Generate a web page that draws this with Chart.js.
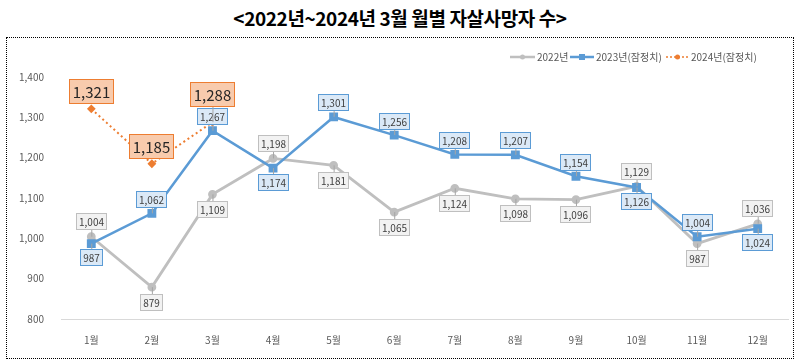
<!DOCTYPE html>
<html>
<head>
<meta charset="utf-8">
<script src="https://cdn.jsdelivr.net/npm/chart.js@4"></script>
<style>
  body { margin: 0; background: #fff; }
  #wrap { position: relative; width: 800px; height: 364px; }
  #title {
    position: absolute; left: 0; top: 4px; width: 800px; text-align: center;
    font: bold 19px "Noto Sans CJK KR"; color: #000; letter-spacing: -0.4px;
  }
  #frame {
    position: absolute; left: 6px; top: 37px; width: 786px; height: 320px;
    border: 1px dotted #000; pointer-events: none;
  }
  canvas { position: absolute; left: 0; top: 0; }
</style>
</head>
<body>
<div id="wrap">
  <div id="title">&lt;2022년~2024년 3월 월별 자살사망자 수&gt;</div>
  <canvas id="myChart" width="800" height="364"></canvas>
  <div id="frame"></div>
</div>
<script>
const months = ['1월', '2월', '3월', '4월', '5월', '6월', '7월', '8월', '9월', '10월', '11월', '12월'];
const seriesNames = ['2022년', '2023년(잠정치)', '2024년(잠정치)'];
const values2022 = [1004, 879, 1109, 1198, 1181, 1065, 1124, 1098, 1096, 1129, 987, 1036];
const values2023 = [987, 1062, 1267, 1174, 1301, 1256, 1208, 1207, 1154, 1126, 1004, 1024];
const values2024 = [1321, 1185, 1288, null, null, null, null, null, null, null, null, null];
const yTicks = [800, 900, 1000, 1100, 1200, 1300, 1400];

const KR = '"Noto Sans CJK KR"';

// boxed value labels, placed above/below depending on the other series
const boxLabels = {
  id: 'boxLabels',
  afterDatasetsDraw(chart) {
    const ctx = chart.ctx;
    const placed = [];
    const sets = chart.data.datasets;
    [0, 1, 2].forEach(di => {
      const ds = sets[di];
      const st = ds.labelStyle;
      const meta = chart.getDatasetMeta(di);
      meta.data.forEach((pt, i) => {
        const v = ds.data[i];
        if (v == null) return;
        const text = v.toLocaleString('en-US');
        ctx.font = st.font;
        const w = Math.round(ctx.measureText(text).width + st.padX * 2);
        const h = st.h;
        let above = true;
        if (di < 2) above = v > sets[1 - di].data[i];
        let cy = pt.y + (above ? -st.offset : st.offset);
        let box = { x: Math.round(pt.x - w / 2), y: Math.round(cy - h / 2), w: w, h: h };
        // push up out of the way of boxes already drawn
        for (let k = 0; k < 20; k++) {
          const hit = placed.find(b => box.x < b.x + b.w && box.x + box.w > b.x && box.y < b.y + b.h && box.y + box.h > b.y);
          if (!hit || di < 2) break;
          box.y = hit.y - box.h - 1;
        }
        // leader line
        const edge = above ? box.y + box.h : box.y;
        if (Math.abs(edge - pt.y) > 5) {
          ctx.save();
          ctx.strokeStyle = '#a6a6a6';
          ctx.lineWidth = 1;
          ctx.beginPath();
          ctx.moveTo(pt.x + 0.5, pt.y);
          ctx.lineTo(pt.x + 0.5, edge);
          ctx.stroke();
          ctx.restore();
        }
        ctx.save();
        ctx.fillStyle = st.fill;
        ctx.fillRect(box.x, box.y, box.w, box.h);
        ctx.strokeStyle = st.border;
        ctx.lineWidth = 1;
        ctx.strokeRect(box.x + 0.5, box.y + 0.5, box.w - 1, box.h - 1);
        ctx.fillStyle = st.color;
        ctx.textAlign = 'center';
        ctx.textBaseline = 'middle';
        ctx.fillText(text, box.x + box.w / 2, box.y + box.h / 2 + 1);
        ctx.restore();
        placed.push(box);
      });
    });
  }
};

// hand-drawn legend, top right
const legendDraw = {
  id: 'legendDraw',
  afterDraw(chart) {
    const ctx = chart.ctx;
    const y = 57;
    const items = [
      { x: 510, len: 25, color: '#bfbfbf', width: 2.5, dash: [], marker: 'circle', text: seriesNames[0] },
      { x: 570, len: 24, color: '#5b9bd5', width: 2.5, dash: [], marker: 'rect', text: seriesNames[1] },
      { x: 666, len: 23, color: '#ed7d31', width: 1.5, dash: [2, 2], marker: 'circle', text: seriesNames[2] }
    ];
    ctx.save();
    items.forEach(it => {
      ctx.strokeStyle = it.color;
      ctx.lineWidth = it.width;
      ctx.setLineDash(it.dash);
      ctx.beginPath();
      ctx.moveTo(it.x, y);
      ctx.lineTo(it.x + it.len, y);
      ctx.stroke();
      ctx.setLineDash([]);
      ctx.fillStyle = it.color;
      const mx = it.x + it.len / 2;
      if (it.marker === 'rect') ctx.fillRect(mx - 3, y - 3, 6, 6);
      else { ctx.beginPath(); ctx.arc(mx, y, 2.5, 0, Math.PI * 2); ctx.fill(); }
      ctx.fillStyle = '#595959';
      ctx.font = '10px ' + KR;
      ctx.textBaseline = 'middle';
      ctx.textAlign = 'left';
      ctx.fillText(it.text, it.x + it.len + 2, y);
    });
    ctx.restore();
  }
};

const data = {
  labels: months,
  datasets: [{
    label: seriesNames[0],
    data: values2022,
    borderColor: '#bfbfbf',
    backgroundColor: '#bfbfbf',
    borderWidth: 2.8,
    pointStyle: 'circle',
    pointRadius: 3,
    order: 2,
    labelStyle: { font: '10px ' + KR, padX: 3, h: 17, offset: 15, fill: '#f2f2f2', border: '#bfbfbf', color: '#404040' }
  }, {
    label: seriesNames[1],
    data: values2023,
    borderColor: '#5b9bd5',
    backgroundColor: '#5b9bd5',
    borderWidth: 2.5,
    pointStyle: 'rect',
    pointRadius: 4.5,
    order: 1,
    labelStyle: { font: '10px ' + KR, padX: 3, h: 17, offset: 14, fill: '#dbe9f7', border: '#5b9bd5', color: '#404040' }
  }, {
    label: seriesNames[2],
    data: values2024,
    borderColor: '#ed7d31',
    backgroundColor: '#ed7d31',
    borderWidth: 2,
    borderDash: [2, 3],
    pointStyle: 'rectRot',
    pointRadius: 3,
    order: 0,
    labelStyle: { font: '15px ' + KR, padX: 4, h: 25, offset: 17, fill: '#f8cbad', border: '#ed7d31', color: '#262626' }
  }]
};

const config = {
  type: 'line',
  data: data,
  options: {
    responsive: false,
    animation: false,
    layout: { padding: { top: 77, right: 12, left: 0, bottom: 0 } },
    plugins: {
      legend: { display: false },
      tooltip: { enabled: false }
    },
    scales: {
      x: {
        offset: true,
        grid: { display: false },
        border: { display: true, color: '#d9d9d9', width: 1 },
        ticks: { color: '#595959', font: { size: 10, family: KR }, padding: 7 },
        afterFit: s => { s.height = 45; }
      },
      y: {
        min: 800,
        max: 1400,
        grid: { display: false },
        border: { display: false },
        afterBuildTicks: s => { s.ticks = yTicks.map(v => ({ value: v })); },
        ticks: {
          color: '#595959',
          font: { size: 10, family: KR },
          padding: 9,
          callback: v => v.toLocaleString('en-US')
        },
        afterFit: s => { s.width = 61; }
      }
    }
  },
  plugins: [boxLabels, legendDraw]
};

const myChart = new Chart(document.getElementById('myChart'), config);
</script>
</body>
</html>
